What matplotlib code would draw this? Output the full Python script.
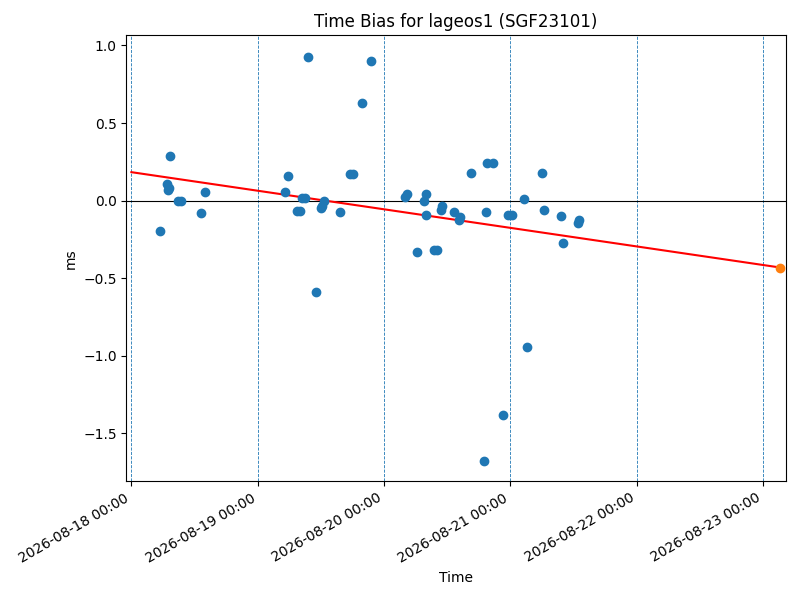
import numpy as np
import pandas as pd
import matplotlib
matplotlib.use("Agg")
import matplotlib.pyplot as plt
import matplotlib.dates as mdates

# time bias observations (ms)
obs_times = [
    "2026-08-18 05:31", "2026-08-18 07:24", "2026-08-18 06:47", "2026-08-18 06:55",
    "2026-08-18 07:10", "2026-08-18 08:50", "2026-08-18 09:25", "2026-08-18 13:17",
    "2026-08-18 14:03",
    "2026-08-19 05:14", "2026-08-19 05:49", "2026-08-19 07:22", "2026-08-19 08:02",
    "2026-08-19 08:25", "2026-08-19 09:03", "2026-08-19 09:37", "2026-08-19 11:08",
    "2026-08-19 12:05", "2026-08-19 12:13", "2026-08-19 12:32", "2026-08-19 15:41",
    "2026-08-19 17:30", "2026-08-19 18:08", "2026-08-19 19:52", "2026-08-19 21:34",
    "2026-08-20 03:58", "2026-08-20 04:15", "2026-08-20 06:18", "2026-08-20 07:38",
    "2026-08-20 07:54", "2026-08-20 07:55", "2026-08-20 09:28", "2026-08-20 10:03",
    "2026-08-20 10:48", "2026-08-20 11:05", "2026-08-20 13:16", "2026-08-20 14:08",
    "2026-08-20 14:30", "2026-08-20 16:26", "2026-08-20 18:58", "2026-08-20 19:24",
    "2026-08-20 19:28", "2026-08-20 20:38", "2026-08-20 22:38", "2026-08-20 23:34",
    "2026-08-21 00:15", "2026-08-21 02:34", "2026-08-21 03:11", "2026-08-21 06:02",
    "2026-08-21 06:22", "2026-08-21 09:38", "2026-08-21 09:58", "2026-08-21 12:49",
    "2026-08-21 13:06",
]
obs_bias = [
    -0.194, 0.288, 0.107, 0.069,
    0.080, -0.006, -0.006, -0.080,
    0.052,
    0.052, 0.159, -0.065, -0.065,
    0.017, 0.017, 0.928, -0.589,
    -0.050, -0.032, -0.004, -0.073,
    0.168, 0.168, 0.627, 0.900,
    0.021, 0.043, -0.329, -0.006,
    0.039, -0.092, -0.318, -0.318,
    -0.058, -0.032, -0.071, -0.123,
    -0.103, 0.179, -1.681, -0.071,
    0.243, 0.243, -1.381, -0.092,
    -0.092, 0.011, -0.946, 0.179,
    -0.060, -0.099, -0.273, -0.146,
    -0.123,
]

# linear trend and predicted value
trend_times = ["2026-08-18 00:00", "2026-08-23 03:14"]
trend_bias = [0.183, -0.432]
pred_time = ["2026-08-23 03:14"]
pred_bias = [-0.432]

day_marks = pd.date_range("2026-08-18", "2026-08-23", freq="D")

t = pd.to_datetime(obs_times)
fig, ax = plt.subplots(figsize=(8, 6), dpi=100)

for d in day_marks:
    ax.axvline(d, color="C0", linestyle="--", linewidth=0.6)
ax.axhline(0, color="black", linewidth=0.8)

ax.scatter(t, obs_bias, color="C0", zorder=3)
ax.plot(pd.to_datetime(trend_times), trend_bias, color="red", zorder=2)
ax.scatter(pd.to_datetime(pred_time), pred_bias, color="C1", zorder=4)

ax.set_xlim(pd.Timestamp("2026-08-17 23:03"), pd.Timestamp("2026-08-23 04:15"))
ax.set_ylim(-1.81, 1.065)
ax.xaxis.set_major_locator(mdates.DayLocator())
ax.xaxis.set_major_formatter(mdates.DateFormatter("%Y-%m-%d %H:%M"))

ax.set_title("Time Bias for lageos1 (SGF23101)")
ax.set_xlabel("Time")
ax.set_ylabel("ms")
fig.autofmt_xdate()
fig.subplots_adjust(left=0.158, right=0.982, top=0.941, bottom=0.198)

plt.savefig("out.png")
